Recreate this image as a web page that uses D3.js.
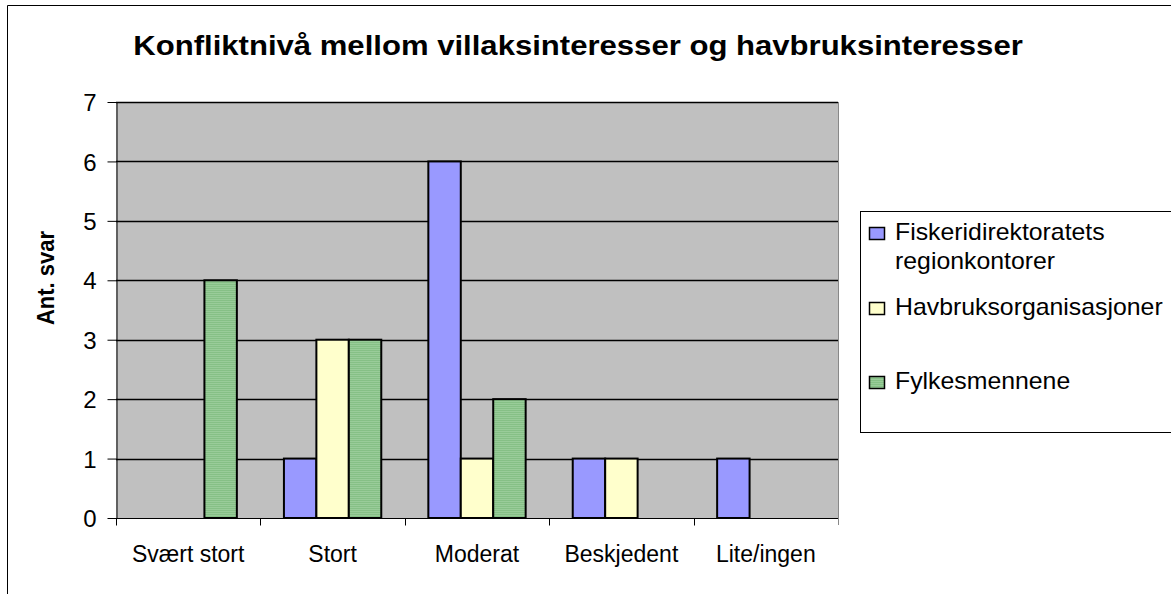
<!DOCTYPE html>
<html>
<head>
<meta charset="utf-8">
<script src="https://cdn.jsdelivr.net/npm/d3@7"></script>
<style>
  body { margin: 0; background: #fff; }
  svg { font-family: "Liberation Sans", Arial, sans-serif; }
</style>
</head>
<body>
<div id="chart"></div>
<script>
'use strict'

var categories = ['Svært stort', 'Stort', 'Moderat', 'Beskjedent', 'Lite/ingen']
var seriesNames = ['Fiskeridirektoratets regionkontorer', 'Havbruksorganisasjoner', 'Fylkesmennene']
var fiskeri = [0, 1, 6, 1, 1]
var havbruk = [0, 3, 1, 1, 0]
var fylke = [4, 3, 2, 0, 0]
var yTicks = [0, 1, 2, 3, 4, 5, 6, 7]

var width = 1171
var height = 594
var plot = { left: 116, top: 102, right: 838, bottom: 518 }

var svg = d3.select('#chart').append('svg')
  .attr('width', width)
  .attr('height', height)

// hatched green fill
var defs = svg.append('defs')
var pat = defs.append('pattern')
  .attr('id', 'hatch')
  .attr('patternUnits', 'userSpaceOnUse')
  .attr('width', 4)
  .attr('height', 2)
pat.append('rect').attr('width', 4).attr('height', 2).attr('fill', '#99cc99')
pat.append('rect').attr('width', 4).attr('height', 1).attr('fill', '#86c086')

var colors = ['#9999ff', '#ffffcc', 'url(#hatch)']
var series = [fiskeri, havbruk, fylke]

// outer frame
svg.append('path')
  .attr('d', 'M7.5,' + height + 'V5.5H' + width)
  .attr('fill', 'none')
  .attr('stroke', '#000')

svg.append('text')
  .attr('transform', 'translate(578,55) scale(1.11,1)')
  .attr('text-anchor', 'middle')
  .style('font-size', '28px')
  .style('font-weight', 'bold')
  .text('Konfliktnivå mellom villaksinteresser og havbruksinteresser')

var x0 = d3.scaleBand()
  .domain(categories)
  .range([plot.left, plot.right])
  .paddingInner(0.326)
  .paddingOuter(0.163)

var x1 = d3.scaleBand()
  .domain(d3.range(series.length))
  .range([0, x0.bandwidth()])

var y = d3.scaleLinear()
  .domain([0, 7])
  .range([plot.bottom, plot.top])

svg.append('rect')
  .attr('x', plot.left)
  .attr('y', plot.top)
  .attr('width', plot.right - plot.left)
  .attr('height', plot.bottom - plot.top)
  .attr('fill', '#c0c0c0')

svg.append('line')
  .attr('x1', plot.right + 0.5).attr('x2', plot.right + 0.5)
  .attr('y1', plot.top).attr('y2', plot.bottom + 7)
  .attr('stroke', '#888')

svg.append('g')
  .selectAll('line')
  .data(yTicks.slice(1))
  .enter().append('line')
  .attr('x1', plot.left)
  .attr('x2', plot.right)
  .attr('y1', function (d) { return Math.round(y(d)) + 0.5 })
  .attr('y2', function (d) { return Math.round(y(d)) + 0.5 })
  .attr('stroke', '#000')
  .attr('stroke-width', 1.3)

var groups = svg.append('g')
  .selectAll('g')
  .data(categories)
  .enter().append('g')
  .attr('transform', function (d) { return 'translate(' + x0(d) + ',0)' })

groups.selectAll('rect')
  .data(function (d, i) {
    return series.map(function (s, k) { return { k: k, v: s[i] } })
  })
  .enter().append('rect')
  .filter(function (d) { return d.v > 0 })
  .attr('x', function (d) { return x1(d.k) })
  .attr('y', function (d) { return y(d.v) })
  .attr('width', x1.bandwidth())
  .attr('height', function (d) { return y(0) - y(d.v) })
  .attr('fill', function (d) { return colors[d.k] })
  .attr('stroke', '#000')
  .attr('stroke-width', 2)

// y axis
var yAxis = svg.append('g')
  .attr('transform', 'translate(' + (plot.left + 0.5) + ',0)')
  .call(d3.axisLeft(y).tickValues(yTicks).tickFormat(d3.format('d'))
    .tickSize(9).tickSizeOuter(0).tickPadding(11))
yAxis.select('.domain').attr('stroke', '#000')
yAxis.selectAll('line').attr('stroke', '#000')
yAxis.selectAll('text').style('font-size', '24px').attr('fill', '#000').attr('dy', '0.36em')

// x axis
var xAxis = svg.append('g')
  .attr('transform', 'translate(0,' + (plot.bottom + 0.5) + ')')
xAxis.append('line')
  .attr('x1', plot.left).attr('x2', plot.right)
  .attr('stroke', '#000')
var bounds = categories.map(function (c) { return x0(c) - x0.step() * x0.paddingInner() / 2 })
bounds[0] = plot.left
xAxis.selectAll('line.tick')
  .data(bounds)
  .enter().append('line')
  .attr('class', 'tick')
  .attr('x1', function (d) { return Math.round(d) + 0.5 })
  .attr('x2', function (d) { return Math.round(d) + 0.5 })
  .attr('y1', 0).attr('y2', 7)
  .attr('stroke', '#000')
xAxis.selectAll('text')
  .data(categories)
  .enter().append('text')
  .attr('x', function (d) { return x0(d) + x0.bandwidth() / 2 })
  .attr('y', 43)
  .attr('text-anchor', 'middle')
  .style('font-size', '23px')
  .text(function (d) { return d })

svg.append('text')
  .attr('transform', 'translate(54,278) rotate(-90) scale(1,1.12)')
  .attr('text-anchor', 'middle')
  .style('font-size', '22px')
  .style('font-weight', 'bold')
  .text('Ant. svar')

// legend
svg.append('rect')
  .attr('x', 860.5).attr('y', 211.5)
  .attr('width', 330).attr('height', 221)
  .attr('fill', '#fff').attr('stroke', '#000')

var legendRows = [
  { k: 0, y: 240, lines: ['Fiskeridirektoratets', 'regionkontorer'] },
  { k: 1, y: 315, lines: ['Havbruksorganisasjoner'] },
  { k: 2, y: 389, lines: ['Fylkesmennene'] }
]
var legend = svg.append('g')
legend.selectAll('rect')
  .data(legendRows)
  .enter().append('rect')
  .attr('x', 869.5)
  .attr('y', function (d) { return d.y - 12.5 })
  .attr('width', 15).attr('height', 12)
  .attr('fill', function (d) { return colors[d.k] })
  .attr('stroke', '#000')
  .attr('stroke-width', 1.5)
legend.selectAll('text')
  .data(legendRows)
  .enter().append('text')
  .attr('transform', function (d) { return 'translate(895,' + d.y + ') scale(1.08,1)' })
  .style('font-size', '23px')
  .each(function (d) {
    var t = d3.select(this)
    d.lines.forEach(function (l, i) {
      t.append('tspan').attr('x', 0).attr('dy', i === 0 ? 0 : 29).text(l)
    })
  })
</script>
</body>
</html>
